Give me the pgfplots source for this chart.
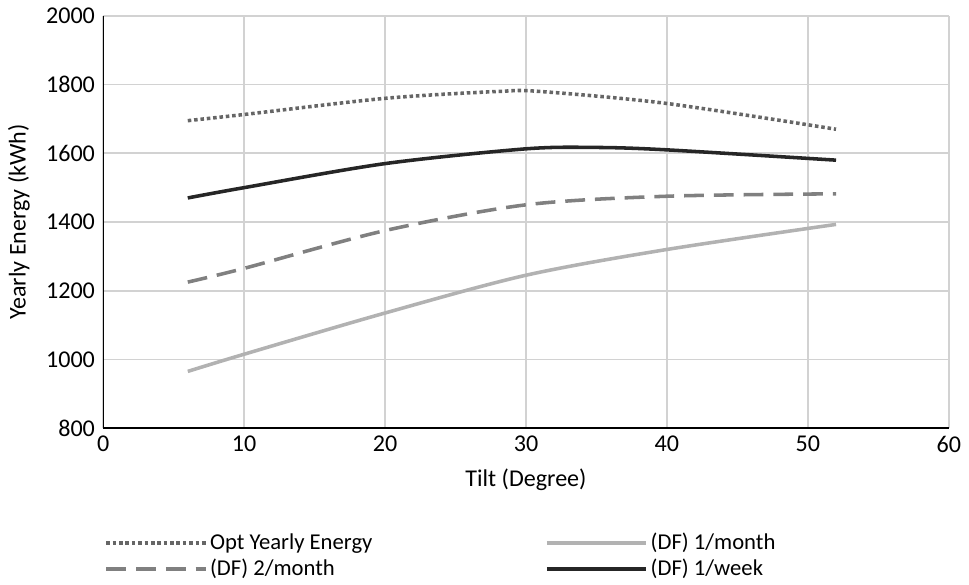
\documentclass[border=0pt]{standalone}
\usepackage{pgfplots}
\pgfplotsset{compat=1.18}
\usepackage{fontspec}
\setmainfont{Carlito}
\begin{document}
\fontsize{17}{20}\selectfont
\begin{tikzpicture}
\begin{axis}[
  scale only axis, width=597pt, height=291pt,
  xmin=0, xmax=60, ymin=800, ymax=2000,
  xtick={0,10,...,60}, ytick={800,1000,...,2000},
  grid=major, grid style={draw=gray!35, line width=1.2pt},
  axis line style={draw=black, line width=0.8pt},
  axis x line*=bottom, axis y line*=left,
  tick style={draw=none},
  /pgf/number format/assume math mode=true,
  /pgf/number format/set thousands separator={},
  ticklabel style={font=\fontsize{17}{20}\selectfont},
  xlabel={Tilt (Degree)}, ylabel={Yearly Energy (kWh)},
  legend style={at={(0.40,-0.24)}, anchor=north, draw=none, font=\fontsize{16}{19}\selectfont,
    /tikz/every even column/.append style={column sep=120pt},
    /tikz/every row/.append style={row sep=12pt}},
  legend cell align=left,
  legend columns=2,
  legend image code/.code={\draw[#1] (0pt,0pt) -- (70pt,0pt);},
]
\addplot[smooth, dotted, line width=2.5pt, color=black!60] coordinates {(6,1695)(10,1713)(20,1760)(28,1780)(31,1780)(40,1745)(52,1670)};
\addlegendentry{Opt Yearly Energy}
\addplot[smooth, line width=2.5pt, color=black!30] coordinates {(6,965)(10,1015)(20,1135)(30,1245)(40,1320)(52,1393)};
\addlegendentry{(DF) 1/month}
\addplot[smooth, dashed, dash pattern=on 14pt off 7pt, line width=2.5pt, color=black!50] coordinates {(6,1225)(10,1265)(20,1375)(30,1450)(40,1475)(52,1482)};
\addlegendentry{(DF) 2/month}
\addplot[smooth, line width=2.5pt, color=black!85] coordinates {(6,1470)(10,1500)(20,1570)(30,1613)(35,1617)(40,1610)(52,1580)};
\addlegendentry{(DF) 1/week}
\end{axis}
\end{tikzpicture}
\end{document}
